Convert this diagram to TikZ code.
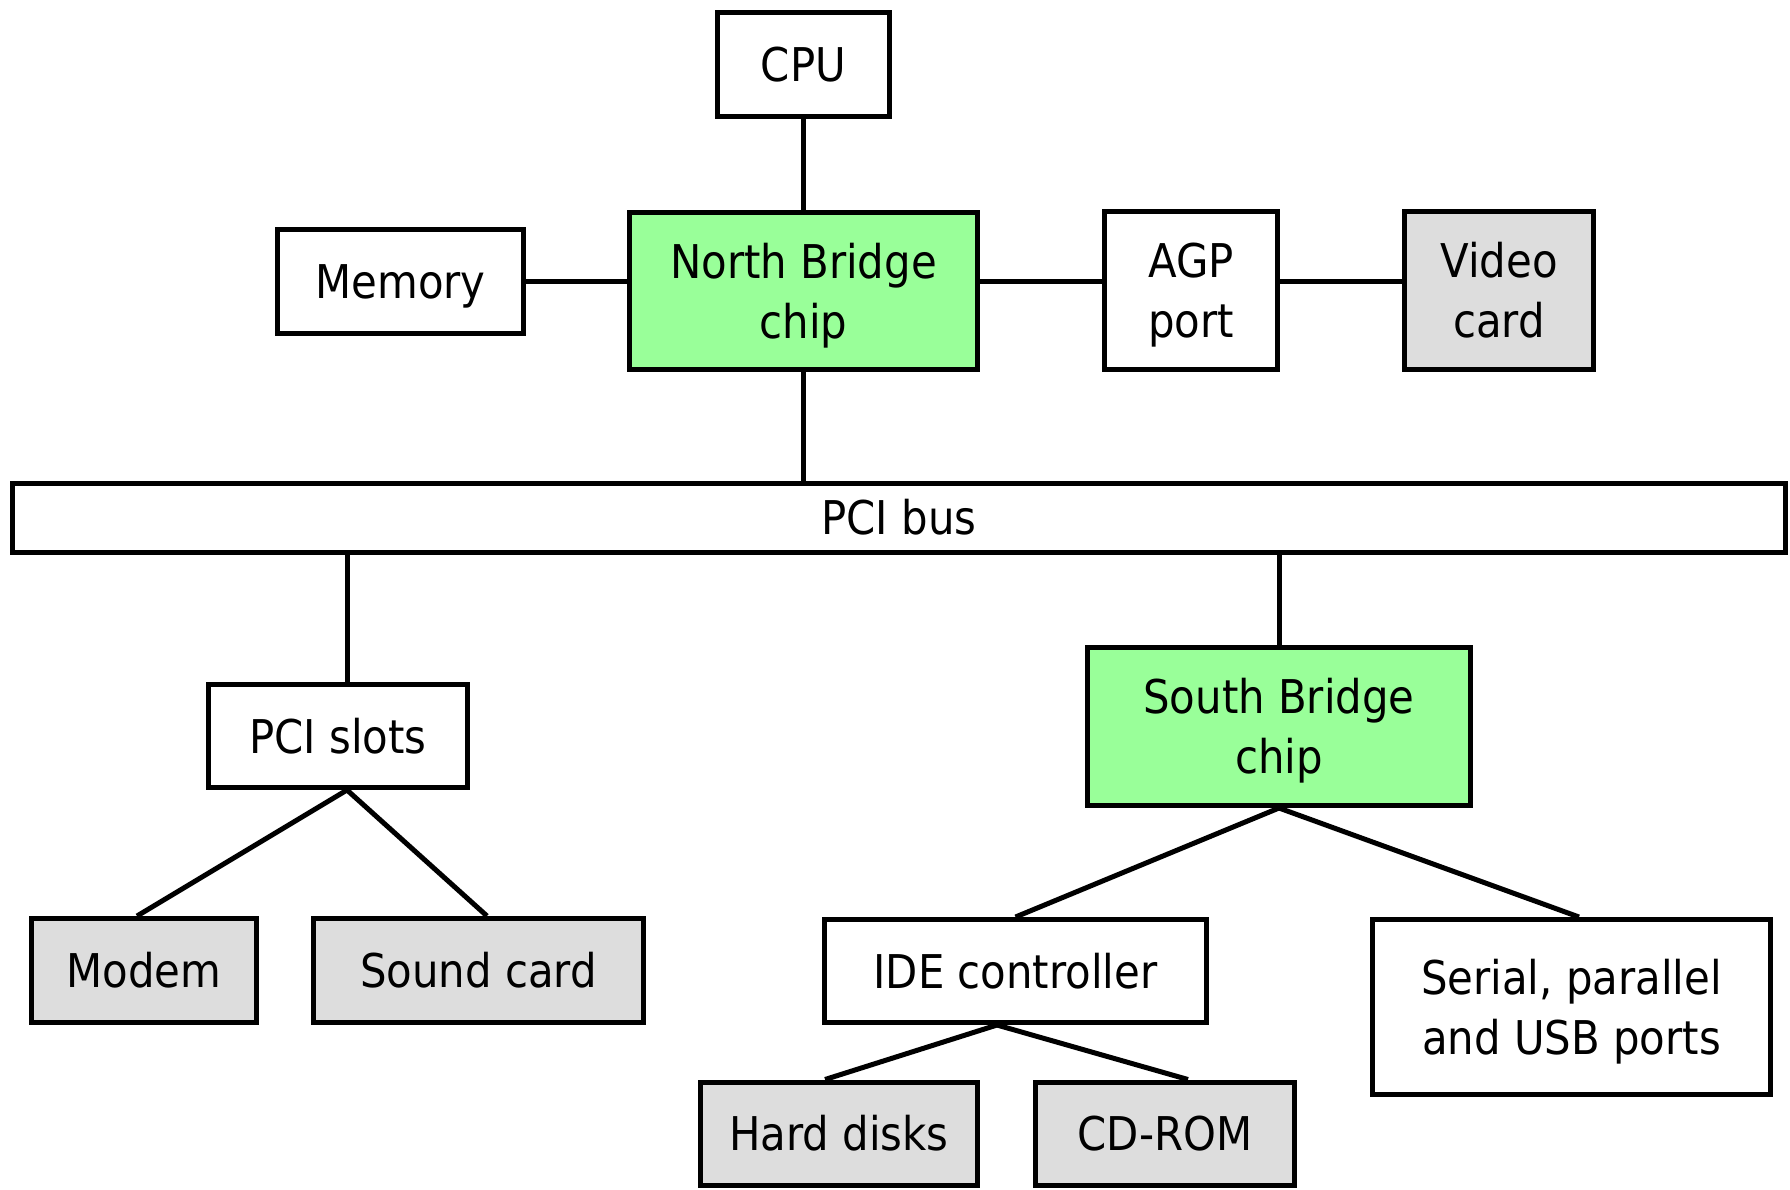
\documentclass[tikz,border=0pt]{standalone}
\usepackage{fontspec}
\setmainfont{DejaVu Sans Condensed}
\usetikzlibrary{calc}
\definecolor{chipgreen}{HTML}{99FF99}
\definecolor{devgray}{HTML}{DDDDDD}
\newcommand{\ls}{\rule[-13pt]{0pt}{60pt}}
\begin{document}
\begin{tikzpicture}[x=1pt,y=-1pt,
  box/.style={draw=black, line width=5pt, rectangle, inner sep=0pt, align=center,
    font=\fontsize{46.5}{60}\selectfont, fill=white},
  chip/.style={box, fill=chipgreen},
  dev/.style={box, fill=devgray},
  wire/.style={draw=black, line width=5pt}]
\useasboundingbox (0,0) rectangle (1790,1189);
% nodes
\node[box, minimum width=172pt, minimum height=104pt] (cpu) at (803.5,64) {\ls CPU};
\node[chip, minimum width=348pt, minimum height=157pt] (nb) at (803.5,291) {\ls North Bridge\\\ls chip};
\node[box, minimum width=246pt, minimum height=104pt] (mem) at (400.5,281) {\ls Memory};
\node[box, minimum width=173pt, minimum height=158pt] (agp) at (1191,290.5) {\ls AGP\\\ls port};
\node[dev, minimum width=189pt, minimum height=158pt] (video) at (1499,290.5) {\ls Video\\\ls card};
\node[box, minimum width=1773pt, minimum height=69pt] (pci) at (899,517.5) {\ls PCI bus};
\node[box, minimum width=259pt, minimum height=103pt] (slots) at (338,736) {\ls PCI slots};
\node[chip, minimum width=383pt, minimum height=158pt] (sb) at (1279,726.5) {\ls South Bridge\\\ls chip};
\node[dev, minimum width=225pt, minimum height=104pt] (modem) at (144,970.5) {\ls Modem};
\node[dev, minimum width=330pt, minimum height=104pt] (sound) at (478.5,970.5) {\ls Sound card};
\node[box, minimum width=382pt, minimum height=103pt] (ide) at (1015.5,971) {\ls IDE controller};
\node[box, minimum width=398pt, minimum height=175pt] (serial) at (1571.5,1007) {\ls Serial, parallel\\\ls and USB ports};
\node[dev, minimum width=277pt, minimum height=103pt] (hd) at (839,1133.5) {\ls Hard disks};
\node[dev, minimum width=259pt, minimum height=103pt] (cd) at (1165,1133.5) {\ls CD-ROM};
% helper coordinates
\coordinate (slotsN) at ($(slots.north)+(9,0)$);
\coordinate (slotsS) at ($(slots.south)+(9,0)$);
\coordinate (modemN) at ($(modem.north)+(-7,0)$);
\coordinate (soundN) at ($(sound.north)+(8.5,0)$);
\coordinate (serialN) at ($(serial.north)+(7.5,0)$);
\coordinate (ideS) at ($(ide.south)+(-18.5,0)$);
\coordinate (hdN) at ($(hd.north)+(-14,0)$);
\coordinate (cdN) at ($(cd.north)+(23,0)$);
% connectors
\draw[wire] (cpu.south) -- (nb.north);
\draw[wire] (mem.east) -- (mem.east -| nb.west);
\draw[wire] (nb.east |- mem.east) -- (agp.west |- mem.east);
\draw[wire] (agp.east |- mem.east) -- (video.west |- mem.east);
\draw[wire] (nb.south) -- (nb.south |- pci.north);
\draw[wire] (slotsN |- pci.south) -- (slotsN);
\draw[wire] (sb.north |- pci.south) -- (sb.north);
\draw[wire] (slotsS) -- (modemN);
\draw[wire] (slotsS) -- (soundN);
\draw[wire] (sb.south) -- (ide.north);
\draw[wire] (sb.south) -- (serialN);
\draw[wire] (ideS) -- (hdN);
\draw[wire] (ideS) -- (cdN);
\end{tikzpicture}
\end{document}
